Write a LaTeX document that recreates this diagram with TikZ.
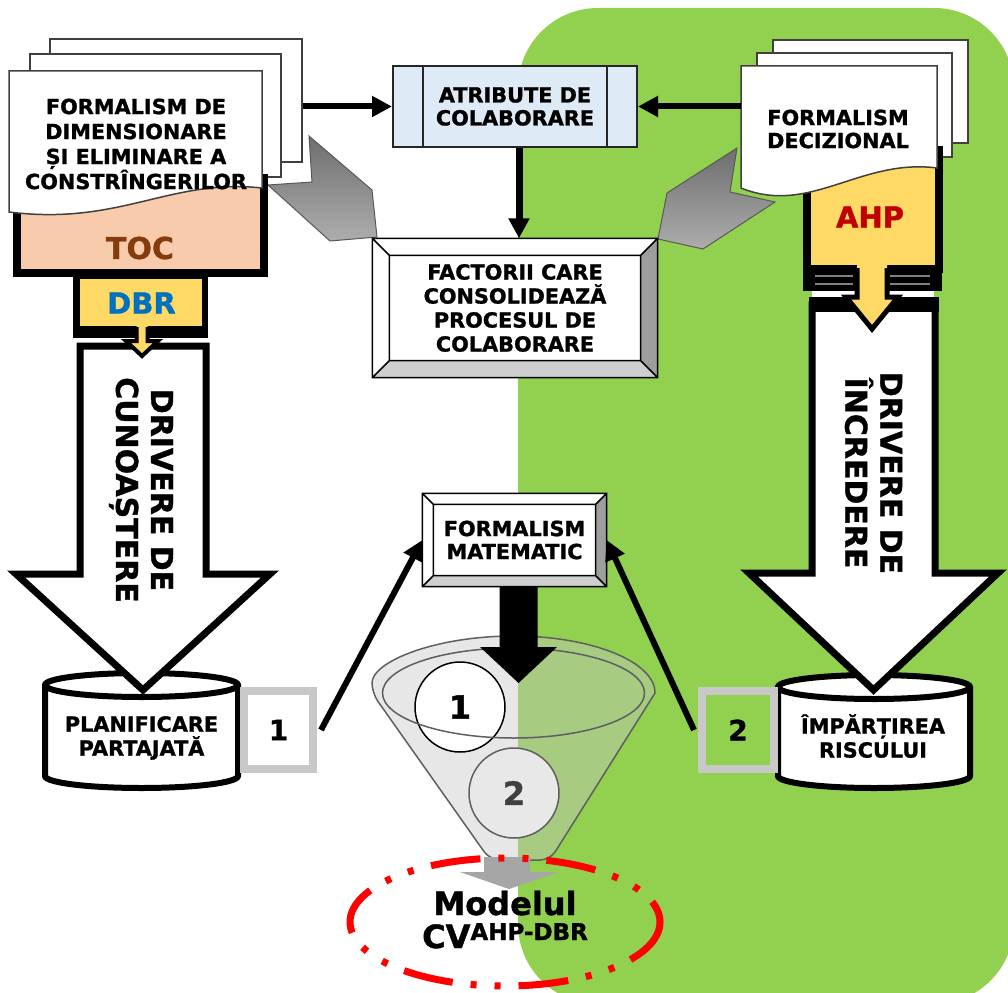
\documentclass[tikz,border=0pt]{standalone}
\usepackage{fontspec}
\setmainfont{DejaVu Sans}[BoldFeatures={FakeBold=1.2}]
\usetikzlibrary{arrows.meta,calc}

\definecolor{panelgreen}{HTML}{92D050}
\definecolor{peach}{HTML}{F8CBAD}
\definecolor{gold}{HTML}{FFD966}
\definecolor{tocbrown}{HTML}{843C0C}
\definecolor{dbrblue}{HTML}{0070C0}
\definecolor{ahpred}{HTML}{C00000}
\definecolor{paleblue}{HTML}{DEEBF7}
\definecolor{pageline}{HTML}{404040}
\definecolor{chevdark}{HTML}{6E6E6E}
\definecolor{chevlight}{HTML}{ADADAD}
\definecolor{framegray}{HTML}{C8C8C8}
\definecolor{bevelright}{HTML}{9E9E9E}
\definecolor{bevelbottom}{HTML}{CFCFCF}
\definecolor{funnelgray}{HTML}{C5C5C5}
\definecolor{funnelline}{HTML}{5F5F5F}
\definecolor{ballgray}{HTML}{E8E8E8}
\definecolor{numgray}{HTML}{404040}
\definecolor{spoutgray}{HTML}{A6A6A6}

% bevelled frame around a rectangular node: #1 node name, #2 bevel depth
\newcommand\bevelframe[2]{%
  \fill[bevelright] (#1.north east) -- (#1.south east) -- ($(#1.south east)+(-#2,-#2)$) -- ($(#1.north east)+(-#2,#2)$) -- cycle;
  \fill[bevelbottom] (#1.south west) -- (#1.south east) -- ($(#1.south east)+(-#2,-#2)$) -- ($(#1.south west)+(#2,-#2)$) -- cycle;
  \draw[line width=1.5pt] (#1.north west) rectangle (#1.south east)
     ($(#1.north west)+(#2,#2)$) rectangle ($(#1.south east)+(-#2,-#2)$)
     (#1.north west) -- ++(#2,#2) (#1.north east) -- ++(-#2,#2)
     (#1.south west) -- ++(#2,-#2) (#1.south east) -- ++(-#2,-#2);
}

\begin{document}
\begin{tikzpicture}[x=1pt,y=-1pt,
  label20/.style={align=center,inner sep=0pt,font=\bfseries\fontsize{20.8}{24}\selectfont},
  page/.style={draw=pageline,fill=white,line width=1.5pt,inner sep=0pt},
  link/.style={line width=6pt,-{Triangle[length=20pt,width=20pt]}},
  bigarrow/.style={draw=black,fill=white,line width=7pt,line join=miter},
  drum/.style={draw=black,fill=white,line width=6pt},
  sidelabel/.style={rotate=-90,align=center,inner sep=0pt,font=\bfseries\fontsize{30}{35}\selectfont},
  tag/.style={inner sep=0pt,font=\bfseries\fontsize{29}{29}\selectfont},
]
\useasboundingbox (0,0) rectangle (1008,992);

% green panel on the right half
\fill[panelgreen,rounded corners=80pt] (518,8) rectangle (1014,1004);

% grey chevrons pointing at the consolidation box
\shadedraw[top color=chevdark,bottom color=chevlight,draw=chevdark!80!black,line width=1pt]
  (309,136) -- (372,190) -- (377,237) -- (330,241) -- (268,185) -- (312,182) -- cycle;
\shadedraw[top color=chevdark,bottom color=chevlight,draw=chevdark!80!black,line width=1pt]
  (737,148) -- (667,193) -- (658,239) -- (703,249) -- (775,202) -- (730,192) -- cycle;

% data stores
\draw[drum] (45,685) -- (45,776) .. controls (45,782.6) and (88.2,788) .. (141.5,788)
  .. controls (194.8,788) and (238,782.6) .. (238,776) -- (238,685);
\draw[drum] (141.5,685) ellipse[x radius=96.5,y radius=12];
\node[label20] (plan) at (141.5,738) {PLANIFICARE\\PARTAJATĂ};

\draw[drum] (778,687) -- (778,776) .. controls (778,782.6) and (821,788) .. (874,788)
  .. controls (927,788) and (970,782.6) .. (970,776) -- (970,687);
\draw[drum] (874,687) ellipse[x radius=96,y radius=12];
\node[label20] (risk) at (873,736) {ÎMPĂRȚIREA\\RISCULUI};

% large driver arrows
\draw[bigarrow] (80,346) -- (206,346) -- (206,574) -- (270,574) -- (143,690) -- (16,574) -- (80,574) -- cycle;
\draw[bigarrow] (812,305) -- (935,305) -- (935,573) -- (998,573) -- (873.5,690) -- (749,573) -- (812,573) -- cycle;
\node[sidelabel] (knowledge) at (141,490) {DRIVERE DE\\CUNOAȘTERE};
\node[sidelabel] (trust) at (873.5,473) {DRIVERE DE\\ÎNCREDERE};

% ---- left column: document stack, TOC and DBR
\fill (73,270) rectangle (208,338);
\fill[gold] (80,279) rectangle (202,326);
\node[page,minimum width=252pt,minimum height=123pt] (docLback) at (176,100.5) {};
\node[page,minimum width=251pt,minimum height=123pt] (docLmid) at (155.5,115.5) {};
\draw[line width=8pt,fill=peach] (17,178) rectangle (264,273);
\draw[page] (9,71) -- (262,71) -- (262,188) .. controls (170,178) and (120,226) .. (9,212) -- cycle;
\node[label20,font=\bfseries\fontsize{20.8}{25}\selectfont] (docL) at (136,144)
  {FORMALISM DE\\DIMENSIONARE\\ȘI ELIMINARE A\\CONSTRÎNGERILOR};
\node[tag,text=tocbrown,font=\bfseries\fontsize{30}{30}\selectfont] (toc) at (140,248) {TOC};
\node[tag,text=dbrblue] (dbr) at (141.5,303) {DBR};
\fill[gold] (136.5,320) -- (136.5,341) -- (126,341) -- (142,356) -- (158,341) -- (147.5,341) -- (147.5,320) -- cycle;
\draw[line width=4pt] (136.5,327) -- (136.5,341) -- (126,341) -- (142,356) -- (158,341) -- (147.5,341) -- (147.5,327);

% ---- right column: document stack and AHP
\node[page,minimum width=195pt,minimum height=103pt] (docRback) at (870.5,91.5) {};
\node[page,minimum width=195pt,minimum height=104pt] (docRmid) at (854.5,105) {};
\draw[line width=8pt,fill=gold] (806.5,150) rectangle (938.5,269);
\draw[page] (741,66) -- (937,66) -- (937,168) .. controls (860,158) and (810,216) .. (741,188) -- cycle;
\node[label20,font=\bfseries\fontsize{20.8}{23}\selectfont] (docR) at (838,129) {FORMALISM\\DECIZIONAL};
\node[tag,text=ahpred] (ahp) at (870,217) {AHP};
\fill (803,265) rectangle (942,291);
\draw[gray,line width=1.2pt] (815,276) -- (853,276) (890,276) -- (930,276)
  (815,284) -- (853,284) (890,284) -- (930,284);
\fill[white] (812,291) rectangle (934,300);
\fill (808.5,297) rectangle (938.5,312);
\fill[gold] (857,262) -- (857,297) -- (846,297) -- (872,329) -- (898,297) -- (887,297) -- (887,262) -- cycle;
\draw[line width=5pt] (857,268) -- (857,297) -- (846,297) -- (872,329) -- (898,297) -- (887,297) -- (887,268);

% ---- collaboration attributes and consolidating factors
\node[draw=black!85,line width=2pt,fill=paleblue,minimum width=244pt,minimum height=81pt,label20,
  font=\bfseries\fontsize{20.8}{23}\selectfont] (atr) at (515,106.5) {ATRIBUTE DE\\COLABORARE};
\draw[line width=2pt,black!85] ([xshift=31pt]atr.north west) -- ([xshift=31pt]atr.south west)
  ([xshift=-31pt]atr.north east) -- ([xshift=-31pt]atr.south east);

\node[fill=white,minimum width=285pt,minimum height=139pt,label20] (fac) at (515,308)
  {FACTORII CARE\\CONSOLIDEAZĂ\\PROCESUL DE\\COLABORARE};
\bevelframe{fac}{17}

\coordinate (docRin) at (741,106.5);
\draw[link] (docLback.east |- atr.west) -- (atr.west);
\draw[link] (docRin) -- (atr.east);
\draw[link,line width=7pt] ([xshift=4pt]atr.south) -- ([xshift=4pt]fac.north);

% ---- mathematical formalism
\node[fill=white,minimum width=184pt,minimum height=93pt,label20,
  font=\bfseries\fontsize{20.8}{23}\selectfont] (fm) at (514.5,540) {FORMALISM\\MATEMATIC};
\bevelframe{fm}{11}

\node[draw=framegray,line width=8pt,fill=white,minimum width=69pt,minimum height=78pt,
  font=\bfseries\fontsize{28}{28}\selectfont] (b1) at (278.5,730) {1};
\node[draw=framegray,line width=8pt,minimum width=72pt,minimum height=78pt,
  font=\bfseries\fontsize{28}{28}\selectfont] (b2) at (738,730) {2};
\draw[link] ([xshift=4pt]b1.east) -- (fm.west);
\draw[link] ([xshift=-4pt]b2.west) -- (fm.east);

% ---- funnel
\filldraw[fill=funnelgray,fill opacity=0.42,draw=funnelline,line width=1.5pt]
  (372,693) .. controls (372,661.5) and (435.6,636) .. (513.5,636)
  .. controls (591.4,636) and (655,661.5) .. (655,693)
  [rounded corners=10pt] -- (550,860) -- (490,860) -- cycle;
\node[circle,draw=black,line width=1.5pt,fill=white,minimum size=90pt,inner sep=0pt,
  font=\bfseries\fontsize{32}{32}\selectfont] (ball1) at (460,707) {1};
\draw[funnelline,line width=1.5pt] (513.5,693) ellipse[x radius=131,y radius=45];
\node[circle,draw=funnelline,line width=1.5pt,fill=ballgray,minimum size=90pt,inner sep=0pt,
  font=\bfseries\fontsize{32}{32}\selectfont,text=numgray] (ball2) at (514,793) {2};

\fill (499.5,587) -- (537.5,587) -- (537.5,647) -- (557,647) -- (518.5,683) -- (480,647) -- (499.5,647) -- cycle;
\fill[spoutgray] (484,857) -- (530,857) -- (530,872) -- (559,872) -- (509,889) -- (460,872) -- (484,872) -- cycle;

% ---- resulting model
\draw[red,line width=7pt,dash pattern=on 50pt off 18pt on 6pt off 18pt on 6pt off 18pt]
  (505,922) ellipse[x radius=155,y radius=64];
\node[font=\bfseries\fontsize{32}{32}\selectfont,anchor=base,inner sep=0pt] (model) at (505,915) {Modelul};
\node[font=\bfseries\fontsize{32}{32}\selectfont,anchor=base,inner sep=0pt] (cv) at (505,948)
  {CV\raisebox{8pt}{\fontsize{23}{23}\selectfont AHP-DBR}};
\end{tikzpicture}
\end{document}
